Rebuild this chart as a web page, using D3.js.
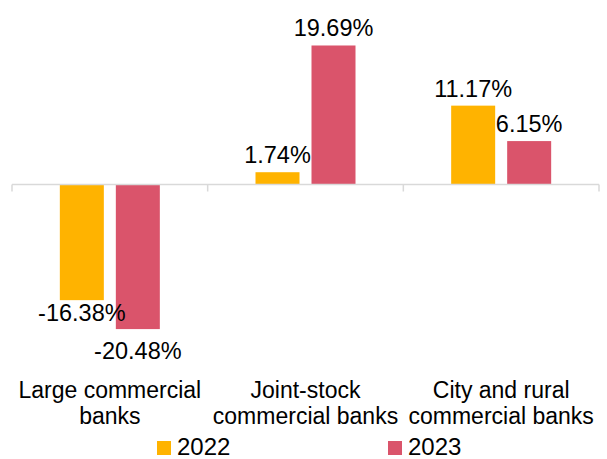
<!DOCTYPE html>
<html>
<head>
<meta charset="utf-8">
<script src="https://cdn.jsdelivr.net/npm/d3@7"></script>
<style>
  html, body { margin: 0; padding: 0; background: #fff; }
  svg { display: block; }
  text { font-family: "Liberation Sans", Arial, sans-serif; fill: #000; }
</style>
</head>
<body>
<svg id="chart" width="607" height="459"></svg>
<script>
// Year-on-year change by bank type (percent)
const categories = [
  ["Large commercial", "banks"],
  ["Joint-stock", "commercial banks"],
  ["City and rural", "commercial banks"]
];
const seriesNames = ["2022", "2023"];
const values2022 = [-16.38, 1.74, 11.17];
const values2023 = [-20.48, 19.69, 6.15];
const seriesColors = ["#FFB300", "#DA546B"];

const svg = d3.select("#chart");

const catKeys = categories.map(c => c.join(" "));
const x0 = d3.scaleBand().domain(catKeys).range([12, 599]).padding(0);
const y = d3.scaleLinear().domain([-25, 25]).range([361, 8]);

const groupWidth = 100;
const x1 = d3.scaleBand().domain(seriesNames)
  .range([0, groupWidth]).paddingInner(12 / 56).paddingOuter(0);

const rows = catKeys.map((k, i) => ({
  key: k,
  lines: categories[i],
  vals: [values2022[i], values2023[i]]
}));

// bars
const groups = svg.append("g").selectAll("g")
  .data(rows).join("g")
  .attr("transform", d => `translate(${x0(d.key) + x0.bandwidth() / 2 - groupWidth / 2},0)`);

groups.selectAll("rect")
  .data(d => d.vals.map((v, j) => ({ v, s: seriesNames[j], j })))
  .join("rect")
  .attr("x", d => x1(d.s))
  .attr("width", x1.bandwidth())
  .attr("y", d => y(Math.max(0, d.v)))
  .attr("height", d => Math.abs(y(d.v) - y(0)))
  .attr("fill", d => seriesColors[d.j]);

// category axis on the zero line
const axis = svg.append("g").attr("transform", `translate(0,${y(0)})`);
axis.append("line")
  .attr("x1", x0.range()[0]).attr("x2", x0.range()[1])
  .attr("stroke", "#d9d9d9").attr("stroke-width", 1.5);
const tickXs = catKeys.map(k => x0(k)).concat([x0.range()[1]]);
axis.selectAll("line.tick").data(tickXs).join("line")
  .attr("class", "tick")
  .attr("x1", d => d).attr("x2", d => d)
  .attr("y1", 0).attr("y2", 7)
  .attr("stroke", "#d9d9d9").attr("stroke-width", 1.5);

// value labels at the outer end of each bar
groups.selectAll("text.val")
  .data(d => d.vals.map((v, j) => ({ v, s: seriesNames[j], j })))
  .join("text")
  .attr("class", "val")
  .attr("x", d => x1(d.s) + x1.bandwidth() / 2)
  .attr("y", d => d.v >= 0 ? y(d.v) - 9 : y(d.v) + 21 + (d.j === 1 ? 9 : 0))
  .attr("text-anchor", "middle")
  .style("font-size", "23.5px")
  .text(d => d3.format(".2f")(d.v).replace("−", "-") + "%");

// category labels, two lines each
const catLabels = svg.append("g").selectAll("text")
  .data(rows).join("text")
  .attr("text-anchor", "middle")
  .style("font-size", "23px")
  .attr("transform", d => `translate(${x0(d.key) + x0.bandwidth() / 2},398)`);
catLabels.selectAll("tspan")
  .data(d => d.lines).join("tspan")
  .attr("x", 0)
  .attr("dy", (d, i) => i === 0 ? 0 : 26)
  .text(d => d);

// legend
const legendX = [157, 388];
const legend = svg.append("g").selectAll("g")
  .data(seriesNames).join("g")
  .attr("transform", (d, i) => `translate(${legendX[i]},441)`);
legend.append("rect")
  .attr("width", 14).attr("height", 14)
  .attr("fill", (d, i) => seriesColors[i]);
legend.append("text")
  .attr("x", 20).attr("y", 14)
  .style("font-size", "24px")
  .text(d => d);
</script>
</body>
</html>
